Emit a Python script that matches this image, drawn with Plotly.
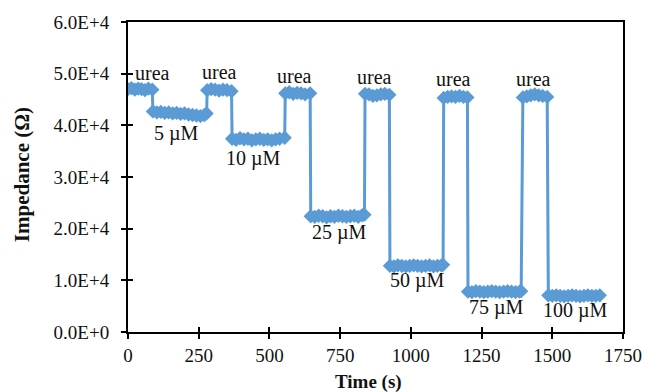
import plotly.graph_objects as go

# Impedance time trace: urea baseline alternating with detection steps
time_s = [
    0, 12, 24, 36, 48, 60, 72, 86,
    88, 102, 116, 130, 144, 158, 172, 186, 200, 214, 228, 242, 256, 270, 278,
    280, 294, 308, 322, 336, 350, 366,
    368, 382, 396, 410, 424, 438, 452, 466, 480, 494, 508, 522, 536, 554,
    556, 570, 584, 598, 612, 626, 644,
    646, 660, 674, 688, 702, 716, 730, 744, 758, 772, 786, 800, 814, 828, 836,
    838, 852, 866, 880, 894, 908, 924,
    926, 940, 954, 968, 982, 996, 1010, 1024, 1038, 1052, 1066, 1080, 1094, 1108, 1114,
    1116, 1130, 1144, 1158, 1172, 1186, 1200,
    1202, 1216, 1230, 1244, 1258, 1272, 1286, 1300, 1314, 1328, 1342, 1356, 1370, 1384, 1390,
    1396, 1410, 1424, 1438, 1452, 1466, 1482,
    1486, 1500, 1514, 1528, 1542, 1556, 1570, 1584, 1598, 1612, 1626, 1640, 1654, 1668,
]
impedance_ohm = [
    47000, 47200, 46900, 47100, 47000, 46800, 47100, 46900,
    42700, 42500, 42600, 42400, 42500, 42300, 42400, 42200, 42300, 42100, 42000, 41900, 41800, 42000, 42300,
    46800, 47000, 46900, 46700, 46900, 46800, 46600,
    37400, 37200, 37500, 37300, 37400, 37100, 37300, 37400, 37200, 37300, 37100, 37300, 37400, 37600,
    46200, 46400, 46100, 46300, 46200, 46000, 46200,
    22400, 22300, 22500, 22400, 22200, 22400, 22300, 22500, 22400, 22300, 22400, 22500, 22300, 22600, 22700,
    46100, 46000, 45700, 45800, 46000, 46100, 45900,
    12800, 12700, 12900, 12800, 12700, 12800, 12900, 12800, 12700, 12800, 12900, 12700, 12800, 12900, 13000,
    45300, 45500, 45600, 45500, 45700, 45500, 45400,
    7800, 7700, 7900, 7800, 7700, 7800, 7900, 7800, 7700, 7800, 7900, 7800, 7700, 7800, 7900,
    45400, 45600, 45800, 46000, 45800, 45700, 45500,
    7100, 7000, 7100, 7000, 6900, 7000, 7100, 7000, 6900, 7000, 7100, 7000, 7000, 7100,
]

# Step labels (x, y in data units)
urea_x = [85, 322, 590, 873, 1152, 1435]
urea_y = [50100, 50300, 49500, 49300, 48900, 48900]
conc_labels = ["5 µM", "10 µM", "25 µM", "50 µM", "75 µM", "100 µM"]
conc_x = [173, 445, 749, 1022, 1304, 1581]
conc_y = [38400, 33500, 19200, 9900, 4800, 4200]

y_tickvals = [0, 10000, 20000, 30000, 40000, 50000, 60000]
y_ticktext = ["0.0E+0", "1.0E+4", "2.0E+4", "3.0E+4", "4.0E+4", "5.0E+4", "6.0E+4"]
x_tickvals = [0, 250, 500, 750, 1000, 1250, 1500, 1750]

BLUE = "#5B9BD5"
FONT = "Liberation Serif, Times New Roman, serif"

fig = go.Figure()
fig.add_trace(go.Scatter(
    x=time_s, y=impedance_ohm, mode="lines+markers",
    line=dict(color=BLUE, width=3),
    marker=dict(symbol="diamond", size=11, color=BLUE, line=dict(width=0)),
    showlegend=False, hoverinfo="x+y",
))
# invisible trace so the inner-tick overlay axes are drawn
fig.add_trace(go.Scatter(x=[0], y=[0], xaxis="x2", yaxis="y2", mode="markers",
                         marker=dict(opacity=0), showlegend=False, hoverinfo="skip"))

for t, x, y in zip(["urea"] * 6, urea_x, urea_y):
    fig.add_annotation(x=x, y=y, text=t, showarrow=False,
                       font=dict(family=FONT, size=20, color="#111"))
for t, x, y in zip(conc_labels, conc_x, conc_y):
    fig.add_annotation(x=x, y=y, text=t, showarrow=False,
                       font=dict(family=FONT, size=20, color="#111"))

# axis titles
fig.add_annotation(xref="paper", yref="paper", x=0.485, y=-0.161, yanchor="middle",
                   text="<b>Time (s)</b>", showarrow=False,
                   font=dict(family=FONT, size=19, color="#111"))
fig.add_annotation(xref="paper", yref="paper", x=-0.214, y=0.506, xanchor="center",
                   yanchor="middle", textangle=-90, text="<b>Impedance (Ω)</b>",
                   showarrow=False, font=dict(family=FONT, size=21, color="#111"))

axis_common = dict(showgrid=False, zeroline=False, showline=True, linecolor="black",
                   linewidth=2, tickcolor="black", tickwidth=1.5, ticklen=5,
                   automargin=False)

fig.update_layout(
    width=645, height=392,
    margin=dict(l=128, r=22, t=22, b=60),
    paper_bgcolor="white", plot_bgcolor="white",
    font=dict(family=FONT, size=19, color="#111"),
    xaxis=dict(range=[0, 1750], tickvals=x_tickvals, ticks="outside", mirror=True,
               ticklabelstandoff=0,
               tickfont=dict(family=FONT, size=19),
               **axis_common),
    yaxis=dict(range=[0, 60000], tickvals=y_tickvals, ticktext=y_ticktext,
               ticks="outside", mirror=True, ticklabelstandoff=8,
               tickfont=dict(family=FONT, size=19),
               **axis_common),
    xaxis2=dict(range=[0, 1750], tickvals=x_tickvals, ticks="inside", overlaying="x",
                anchor="y2", side="bottom", showticklabels=False, showgrid=False,
                zeroline=False, showline=False, tickcolor="black", tickwidth=1.5, ticklen=5),
    yaxis2=dict(range=[0, 60000], tickvals=y_tickvals, ticks="inside", overlaying="y",
                anchor="x2", side="left", showticklabels=False, showgrid=False,
                zeroline=False, showline=False, tickcolor="black", tickwidth=1.5, ticklen=5),
)

fig.write_html("out.html")
